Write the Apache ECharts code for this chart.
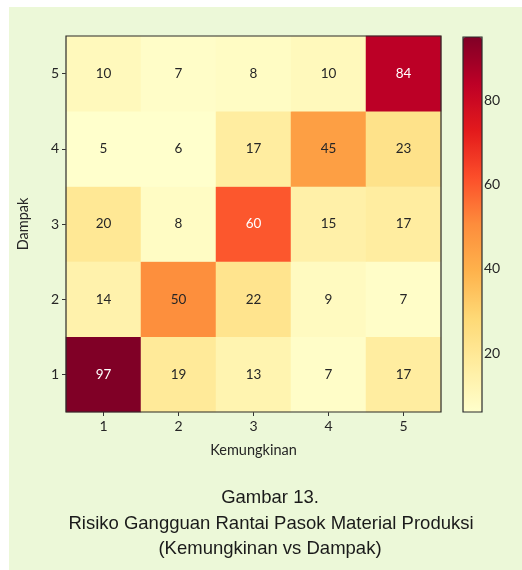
<!DOCTYPE html>
<html lang="id">
<head>
<meta charset="utf-8">
<title>Risiko Gangguan Rantai Pasok</title>
<script src="https://cdn.jsdelivr.net/npm/echarts@6.0.0/dist/echarts.min.js"></script>
<style>
  html, body { margin: 0; padding: 0; background: #fff; }
  #main { width: 522px; height: 570px; }
</style>
</head>
<body>
<div id="main"></div>
<script>
// kategori sumbu
var kemungkinan = ['1', '2', '3', '4', '5'];
var dampak = ['1', '2', '3', '4', '5'];

// nilai per baris dampak (1 di bawah, 5 di atas), kolom = kemungkinan 1..5
var dampak1 = [97, 19, 13, 7, 17];
var dampak2 = [14, 50, 22, 9, 7];
var dampak3 = [20, 8, 60, 15, 17];
var dampak4 = [5, 6, 17, 45, 23];
var dampak5 = [10, 7, 8, 10, 84];

var colorbarTicks = [20, 40, 60, 80];
var ylorrd = ['#ffffcc', '#ffeda0', '#fed976', '#feb24c', '#fd8d3c',
              '#fc4e2a', '#e31a1c', '#bd0026', '#800026'];

var rows = [dampak1, dampak2, dampak3, dampak4, dampak5];
var data = [];
rows.forEach(function (row, yi) {
    row.forEach(function (v, xi) {
        data.push({
            value: [xi, yi, v],
            label: { color: v >= 55 ? '#ffffff' : '#262626' }
        });
    });
});

var font = 'Lato, "Open Sans", sans-serif';
var capFont = '18.5px "Liberation Sans", Arial, sans-serif';
var chart = echarts.init(document.getElementById('main'));

var option = {
    backgroundColor: '#ffffff',
    animation: false,
    graphic: [
        { type: 'rect', shape: { x: 9, y: 7, width: 513, height: 563 },
          style: { fill: '#ecf8d8' }, z: -10, silent: true },
        { type: 'rect', shape: { x: 66, y: 36, width: 375, height: 376 },
          style: { fill: 'none', stroke: '#2b2b2b', lineWidth: 1.2 }, z: 100, silent: true },
        { type: 'rect', shape: { x: 463, y: 37, width: 19, height: 375 },
          style: { fill: 'none', stroke: '#2b2b2b', lineWidth: 1.2 }, z: 100, silent: true },
        { type: 'text', x: 270, y: 498, style: { text: 'Gambar 13.', textAlign: 'center',
          textVerticalAlign: 'middle', font: capFont, fill: '#1a1a1a' } },
        { type: 'text', x: 271, y: 524, style: { text: 'Risiko Gangguan Rantai Pasok Material Produksi', textAlign: 'center',
          textVerticalAlign: 'middle', font: capFont, fill: '#1a1a1a' } },
        { type: 'text', x: 270, y: 549, style: { text: '(Kemungkinan vs Dampak)', textAlign: 'center',
          textVerticalAlign: 'middle', font: capFont, fill: '#1a1a1a' } }
    ],
    grid: [
        { left: 66, top: 36, width: 375, height: 376 },
        { left: 463, top: 37, width: 19, height: 375 }
    ],
    xAxis: [
        {
            type: 'category', data: kemungkinan, gridIndex: 0,
            name: 'Kemungkinan', nameLocation: 'middle', nameGap: 31,
            nameTextStyle: { fontFamily: font, fontSize: 14.5, color: '#262626' },
            axisLine: { show: false },
            axisTick: { show: true, alignWithLabel: true, length: 4, lineStyle: { color: '#333' } },
            axisLabel: { fontFamily: font, fontSize: 14, color: '#262626', margin: 7 },
            splitArea: { show: false }
        },
        { type: 'value', gridIndex: 1, show: false, min: 0, max: 1 }
    ],
    yAxis: [
        {
            type: 'category', data: dampak, gridIndex: 0,
            name: 'Dampak', nameLocation: 'middle', nameGap: 35, nameRotate: 90,
            nameTextStyle: { fontFamily: font, fontSize: 14.5, color: '#262626' },
            axisLine: { show: false },
            axisTick: { show: true, alignWithLabel: true, length: 4, lineStyle: { color: '#333' } },
            axisLabel: { fontFamily: font, fontSize: 14, color: '#262626', margin: 7 },
            splitArea: { show: false }
        },
        {
            type: 'value', gridIndex: 1, position: 'right', min: 6, max: 95,
            axisLine: { show: false },
            splitLine: { show: false },
            axisTick: { show: true, length: 4, customValues: colorbarTicks, lineStyle: { color: '#333' } },
            axisLabel: { fontFamily: font, fontSize: 14, color: '#262626', margin: 2, customValues: colorbarTicks }
        }
    ],
    visualMap: {
        type: 'continuous',
        min: 6, max: 95,
        seriesIndex: 0,
        calculable: false,
        orient: 'vertical',
        left: 463, top: 37,
        itemWidth: 19, itemHeight: 375,
        padding: 0,
        text: null,
        showLabel: false,
        inRange: { color: ylorrd }
    },
    series: [{
        type: 'heatmap',
        xAxisIndex: 0, yAxisIndex: 0,
        data: data,
        label: { show: true, fontFamily: font, fontSize: 13.5 },
        itemStyle: { borderWidth: 0 },
        emphasis: { disabled: true }
    }]
};

chart.setOption(option);
</script>
</body>
</html>
